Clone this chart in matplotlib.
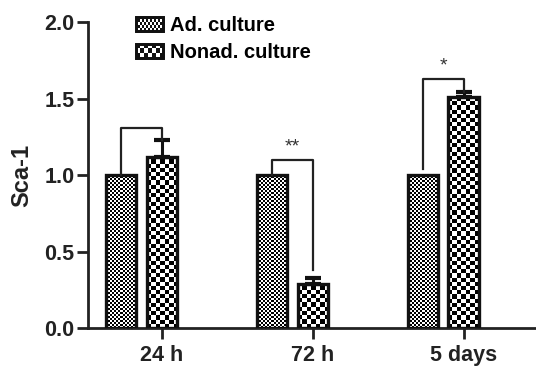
import numpy as np
import matplotlib
matplotlib.use('Agg')
import matplotlib.pyplot as plt
from matplotlib.patches import Rectangle
from matplotlib.legend_handler import HandlerBase

# Data
groups = ['24 h', '72 h', '5 days']
ad_vals = [1.0, 1.0, 1.0]
nonad_vals = [1.12, 0.29, 1.51]
nonad_err = [0.11, 0.04, 0.035]
# significance brackets: (bracket height, right leg bottom, left leg bottom, label)
bracket_y = [1.31, 1.10, 1.63]
bracket_right = [1.23, 0.38, 1.545]
bracket_left = [1.0, 1.0, 1.04]
stars = ['', '**', '*']

plt.rcParams['font.family'] = ['Liberation Sans', 'DejaVu Sans']
plt.rcParams['font.weight'] = 'bold'

fig = plt.figure(figsize=(5.36, 3.70), dpi=100)
ax = fig.add_axes([0.164, 0.1135, 0.836, 0.827])

x = np.arange(len(groups))
offset = 0.27
width = 0.2
ax.set_xlim(-0.49, 2.48)
ax.set_ylim(0, 2.0)


def checker(ax, patch, cell_px, zorder=2):
    # fill a bar with a checkerboard clipped to the bar
    x0, y0 = patch.get_x(), patch.get_y()
    w, h = patch.get_width(), patch.get_height()
    p0 = ax.transData.transform((x0, y0))
    p1 = ax.transData.transform((x0 + w, y0 + h))
    ncol = max(1, int(round(abs(p1[0] - p0[0]) / cell_px)))
    nrow = max(1, int(round(abs(p1[1] - p0[1]) / cell_px)))
    img = (np.add.outer(np.arange(nrow), np.arange(ncol)) % 2).astype(float)
    im = ax.imshow(img, cmap='gray', vmin=0, vmax=1, interpolation='nearest',
                   extent=(x0, x0 + w, y0, y0 + nrow * cell_px * h / abs(p1[1] - p0[1])),
                   origin='lower', aspect='auto', zorder=zorder)
    im.set_clip_path(patch)


bars_ad = ax.bar(x - offset, ad_vals, width, facecolor='none',
                 edgecolor='#111111', linewidth=2.4, zorder=3)
bars_non = ax.bar(x, nonad_vals, width, facecolor='none',
                  edgecolor='#111111', linewidth=2.4, zorder=3)
ax.errorbar(x, nonad_vals, yerr=[np.zeros(3), nonad_err], fmt='none',
            ecolor='#111111', elinewidth=2.2, capsize=6, capthick=3.0, zorder=4)
ax.set_aspect('auto')
ax.set_xlim(-0.49, 2.48)
ax.set_ylim(0, 2.0)

for p in bars_ad:
    checker(ax, p, 2.0)
for p in bars_non:
    checker(ax, p, 4.2)

# brackets
for i in range(3):
    xl, xr = x[i] - offset, x[i]
    ax.plot([xl, xl, xr, xr], [bracket_left[i], bracket_y[i], bracket_y[i], bracket_right[i]],
            color='#222222', lw=1.6, zorder=5)
    if stars[i]:
        ax.text((xl + xr) / 2, bracket_y[i] + 0.025, stars[i], ha='center', va='bottom',
                fontsize=14, fontweight='normal', color='#333333')

ax.spines['top'].set_visible(False)
ax.spines['right'].set_visible(False)
for s in ['left', 'bottom']:
    ax.spines[s].set_linewidth(2.0)
    ax.spines[s].set_color('#222222')
ax.set_xticks(x)
ax.set_xticklabels(groups)
ax.set_yticks([0, 0.5, 1.0, 1.5, 2.0])
ax.set_yticklabels(['0.0', '0.5', '1.0', '1.5', '2.0'])
ax.tick_params(axis='both', labelsize=15.5, width=2.0, length=8, color='#222222',
               labelcolor='#222222')
ax.tick_params(axis='x', pad=4)
ax.tick_params(axis='y', pad=1.5)
ax.set_ylabel('Sca-1', fontsize=17, fontweight='bold', color='#222222', labelpad=8)


class CheckerHandler(HandlerBase):
    def __init__(self, ncol, nrow):
        super().__init__()
        self.ncol, self.nrow = ncol, nrow

    def create_artists(self, legend, orig_handle, xdescent, ydescent, width, height,
                       fontsize, trans):
        arts = [Rectangle((-xdescent, -ydescent), width, height, facecolor='white',
                          edgecolor='#111111', lw=2.0, transform=trans)]
        cw, ch = width / self.ncol, height / self.nrow
        for r in range(self.nrow):
            for c in range(self.ncol):
                if (r + c) % 2 == 0:
                    arts.append(Rectangle((-xdescent + c * cw, -ydescent + r * ch), cw, ch,
                                          facecolor='#111111', lw=0, transform=trans))
        arts.append(Rectangle((-xdescent, -ydescent), width, height, facecolor='none',
                              edgecolor='#111111', lw=2.0, transform=trans))
        return arts


h_ad = Rectangle((0, 0), 1, 1)
h_non = Rectangle((0, 1), 1, 1)
ax.legend([h_ad, h_non], ['Ad. culture', 'Nonad. culture'],
          handler_map={h_ad: CheckerHandler(14, 5), h_non: CheckerHandler(7, 3)},
          loc='upper left', bbox_to_anchor=(0.09, 1.047), frameon=False,
          fontsize=14.5, handlelength=1.35, handleheight=0.7, handletextpad=0.3,
          labelspacing=0.4, borderaxespad=0)

fig.savefig('out.png', dpi=100)
